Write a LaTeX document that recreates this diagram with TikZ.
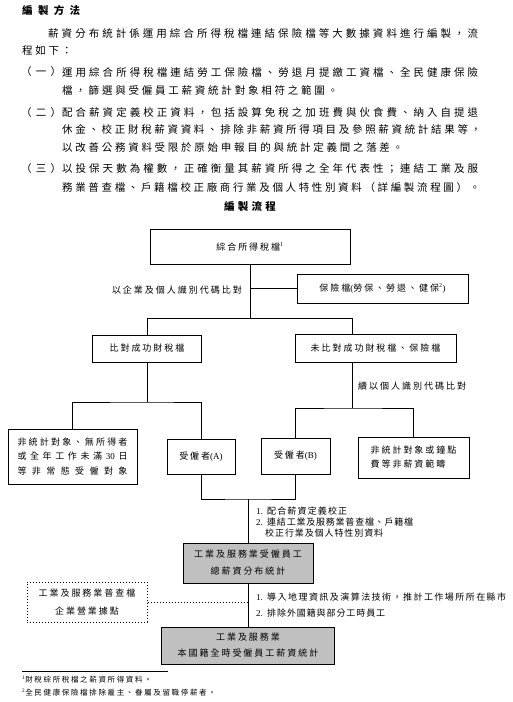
\documentclass[tikz,border=0pt]{standalone}
\usepackage{fontspec}
\setmainfont{Noto Sans CJK TC}
\newfontfamily\flowcjk[LetterSpace=22]{Noto Sans CJK TC}
\newfontfamily\latfont{Liberation Serif}
\newcommand\la[1]{{\latfont #1}}
\newcommand\num[1]{\makebox[11pt][l]{\la{#1}}}
\definecolor{boxgray}{RGB}{192,192,192}
% spread the characters of a line over a given width
\ExplSyntaxOn
\NewDocumentCommand\spread{mm}{\hbox to #1{\tl_map_inline:nn{#2}{##1\hfil}\unskip}}
\ExplSyntaxOff
\begin{document}
\begin{tikzpicture}[x=1pt,y=-1pt,
  body/.style={anchor=west,inner sep=0pt,font=\fontsize{10.5}{13}\selectfont},
  box/.style={draw,line width=1pt,inner sep=0pt,align=center,font=\flowcjk\fontsize{9}{11}\selectfont},
  note/.style={inner sep=0pt,font=\flowcjk\fontsize{9}{11}\selectfont},
  link/.style={line width=1pt}]
\useasboundingbox (0,0) rectangle (512,702);
% text above the chart
\node[body] (title) at (22,10) {\bfseries\spread{58pt}{編製方法}};
\node[body] (p1) at (48,33) {\spread{430pt}{薪資分布統計係運用綜合所得稅檔連結保險檔等大數據資料進行編製，流}};
\node[body] (p2) at (22,51) {\spread{50pt}{程如下：}};
\node[body] (n1) at (21,72) {\spread{40pt}{（一）}};
\node[body] (i1a) at (62,72) {\spread{416pt}{運用綜合所得稅檔連結勞工保險檔、勞退月提繳工資檔、全民健康保險}};
\node[body] (i1b) at (62,90) {\spread{276pt}{檔，篩選與受僱員工薪資統計對象相符之範圍。}};
\node[body] (n2) at (21,112.5) {\spread{40pt}{（二）}};
\node[body] (i2a) at (62,112.5) {\spread{416pt}{配合薪資定義校正資料，包括設算免稅之加班費與伙食費、納入自提退}};
\node[body] (i2b) at (62,130) {\spread{419pt}{休金、校正財稅薪資資料、排除非薪資所得項目及參照薪資統計結果等，}};
\node[body] (i2c) at (62,147) {\spread{341pt}{以改善公務資料受限於原始申報目的與統計定義間之落差。}};
\node[body] (n3) at (21,169) {\spread{40pt}{（三）}};
\node[body] (i3a) at (62,169) {\spread{416pt}{以投保天數為權數，正確衡量其薪資所得之全年代表性；連結工業及服}};
\node[body] (i3b) at (62,187) {\spread{418pt}{務業普查檔、戶籍檔校正廠商行業及個人特性別資料（詳編製流程圖）。}};
\node[body,anchor=center] (flow) at (250,207) {\bfseries\spread{52pt}{編製流程}};
% boxes of the chart
\node[box,minimum width=200pt,minimum height=35pt] (tax) at (250,246.5) {綜合所得稅檔\textsuperscript{\la{1}}};
\node[box,minimum width=171pt,minimum height=29pt] (ins) at (382.5,288.5) {保險檔\la{(}勞保、勞退、健保\textsuperscript{\la{2}}\la{)}};
\node[note,anchor=east] (cmp1) at (242,290) {以企業及個人識別代碼比對};
\node[box,minimum width=109pt,minimum height=27pt] (match) at (147,348.5) {比對成功財稅檔};
\node[box,minimum width=161pt,minimum height=28pt] (nomatch) at (375.5,348) {未比對成功財稅檔、保險檔};
\node[note,anchor=west] (cmp2) at (358,386) {續以個人識別代碼比對};
\node[box,minimum width=129pt,minimum height=55pt,font=\flowcjk\fontsize{9}{14.5}\selectfont] (nonstat) at (72.5,456.5)
  {\spread{110pt}{非統計對象、無所得者}\\\spread{110pt}{或全年工作未滿{\la{30}}日}\\\spread{110pt}{等非常態受僱對象}};
\node[box,minimum width=68pt,minimum height=35pt] (empA) at (201,456.5) {受僱者\la{(A)}};
\node[box,minimum width=69pt,minimum height=36pt] (empB) at (295.5,456) {受僱者\la{(B)}};
\node[box,minimum width=111pt,minimum height=41pt,align=left,font=\flowcjk\fontsize{9}{14}\selectfont] (nonpay) at (413.5,457.5) {非統計對象或鐘點\\費等非薪資範疇};
\node[note,anchor=north west,align=left] (step1) at (256,507)
  {\num{1.}\spread{80pt}{配合薪資定義校正}\\\num{2.}\spread{146pt}{連結工業及服務業普查檔、戶籍檔}\\\hspace*{9pt}\spread{118pt}{校正行業及個人特性別資料}};
\node[box,fill=boxgray,minimum width=130pt,minimum height=40pt,font=\flowcjk\fontsize{9}{17}\selectfont] (total) at (248,563) {工業及服務業受僱員工\\總薪資分布統計};
\node[box,dotted,minimum width=120pt,minimum height=40pt,font=\flowcjk\fontsize{9}{18}\selectfont] (census) at (87,602) {工業及服務業普查檔\\企業營業據點};
\node[note,anchor=west,align=left,font=\flowcjk\fontsize{9}{16}\selectfont] (step2) at (256,605)
  {\num{1.}\spread{239pt}{導入地理資訊及演算法技術，推計工作場所所在縣市}\\\num{2.}\spread{118pt}{排除外國籍與部分工時員工}};
\node[box,fill=boxgray,minimum width=173pt,minimum height=37pt,font=\flowcjk\fontsize{9}{16}\selectfont] (final) at (248,645.5) {工業及服務業\\本國籍全時受僱員工薪資統計};
% junctions
\coordinate (j1) at (250,318);
\coordinate (j1r) at (352,318);
\coordinate (j2) at (147,402);
\coordinate (j3) at (352,408);
\coordinate (j4) at (248,499);
% connectors
\draw[link] (tax) -- (j1);
\draw[link] (ins) -- (ins -| tax);
\draw[link] (match) |- (j1r) -- (j1r |- nomatch.north);
\draw[link] (match) -- (j2);
\draw[link] (nonstat) |- (j2) -| (empA);
\draw[link] (nomatch.south -| j3) -- (j3);
\draw[link] (empB) |- (j3) -| (nonpay);
\draw[link] (empA) |- (j4) -| (empB);
\draw[link] (j4) -- (total);
\draw[link] (total) -- (final);
\draw[link,dotted] (census) -- (census -| total);
% footnotes
\draw[line width=0.8pt] (22,671) -- (168,671);
\node[note,anchor=west,font=\flowcjk\fontsize{7.5}{9}\selectfont] (fn1) at (22,680) {\textsuperscript{\la{1}}財稅綜所稅檔之薪資所得資料。};
\node[note,anchor=west,font=\flowcjk\fontsize{7.5}{9}\selectfont] (fn2) at (22,693) {\textsuperscript{\la{2}}全民健康保險檔排除雇主、眷屬及留職停薪者。};
\end{tikzpicture}
\end{document}
